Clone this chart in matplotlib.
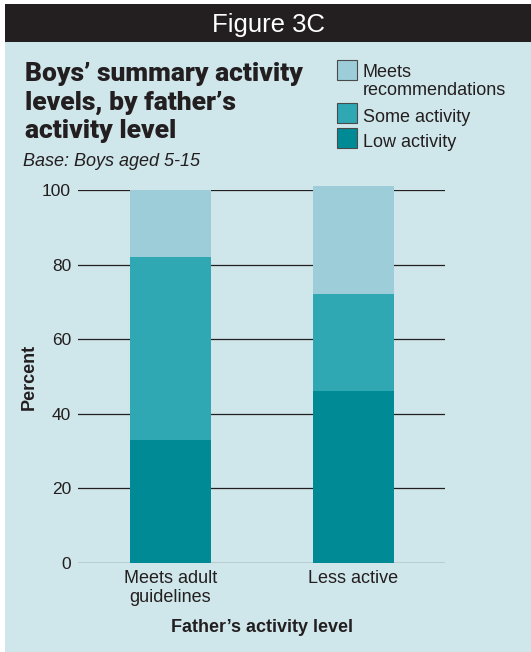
import matplotlib
matplotlib.use('Agg')
import matplotlib.pyplot as plt
from matplotlib.patches import Rectangle

# data: percent of boys in each activity group
groups = ['Meets adult\nguidelines', 'Less active']
low_activity = [33, 46]
some_activity = [49, 26]
meets_recs = [18, 29]
series_names = ['Meets\nrecommendations', 'Some activity', 'Low activity']
yticks = [0, 20, 40, 60, 80, 100]
title_lines = ['Boys’ summary activity', 'levels, by father’s', 'activity level']

c_low = '#008A96'
c_some = '#2FA8B3'
c_meets = '#9CCDD8'
bg = '#CFE6EA'
dark = '#231F20'

plt.rcParams['font.family'] = ['Liberation Sans', 'DejaVu Sans']

W, H = 531, 652
fig = plt.figure(figsize=(W / 100, H / 100), dpi=100)
fig.patch.set_facecolor('white')


def fx(x):
    return x / W


def fy(y):
    return 1 - y / H


# panel background and header band
fig.patches.append(Rectangle((fx(5), 0), 1 - fx(5), fy(42), transform=fig.transFigure,
                             facecolor=bg, edgecolor='none', zorder=-10))
fig.patches.append(Rectangle((fx(5), fy(42)), 1 - fx(5), fy(4) - fy(42), transform=fig.transFigure,
                             facecolor=dark, edgecolor='none', zorder=-10))
fig.text(fx(269), fy(32), 'Figure 3C', color='white', fontsize=18.5, ha='center', va='baseline')

# title block
for i, line in enumerate(title_lines):
    fig.text(fx(25), fy(81 + 28.5 * i), line, fontsize=19, fontweight='black',
             family=['Roboto', 'Liberation Sans'], color=dark, ha='left', va='baseline')
fig.text(fx(23), fy(166.5), 'Base: Boys aged 5-15', fontsize=13, style='italic',
         color=dark, ha='left', va='baseline')

# legend
leg_cols = [c_meets, c_some, c_low]
leg_box_top = [60, 103, 128]
leg_text_y = [77, 122, 147]
for col, top, ty, name in zip(leg_cols, leg_box_top, leg_text_y, series_names):
    fig.patches.append(Rectangle((fx(337), fy(top + 20)), fx(20), fy(top) - fy(top + 20),
                                 transform=fig.transFigure, facecolor=col,
                                 edgecolor='#4a4a4a', linewidth=0.8, zorder=2))
    for j, part in enumerate(name.split('\n')):
        fig.text(fx(363), fy(ty + 18 * j), part, fontsize=13, color=dark,
                 ha='left', va='baseline')

# chart area
ax = fig.add_axes([fx(78), fy(563), fx(445) - fx(78), fy(190) - fy(563)])
ax.set_zorder(5)
ax.set_facecolor('none')
x = [0, 1]
bw = 0.443
ax.bar(x, low_activity, bw, color=c_low, zorder=3, clip_on=False)
bot2 = low_activity
ax.bar(x, some_activity, bw, bottom=bot2, color=c_some, zorder=3, clip_on=False)
bot3 = [a + b for a, b in zip(low_activity, some_activity)]
ax.bar(x, meets_recs, bw, bottom=bot3, color=c_meets, zorder=3, clip_on=False)

ax.set_ylim(0, 100)
ax.set_xlim(-0.505, 1.5)
ax.set_yticks(yticks)
ax.set_xticks(x)
ax.set_xticklabels(groups, fontsize=13, color=dark, linespacing=1.15)
ax.tick_params(axis='y', length=0, labelsize=12.5, labelcolor=dark, pad=5)
ax.tick_params(axis='x', length=0, pad=5)
for s in ax.spines.values():
    s.set_visible(False)
ax.yaxis.grid(True, color=dark, linewidth=0.9, zorder=1)
ax.set_axisbelow(True)

ax.set_ylabel('Percent', fontsize=13, fontweight='bold', color=dark, labelpad=3)
fig.text(fx(262), fy(632), 'Father’s activity level', fontsize=13, fontweight='bold',
         color=dark, ha='center', va='baseline')

fig.savefig('out.png', dpi=100, facecolor=fig.get_facecolor())
